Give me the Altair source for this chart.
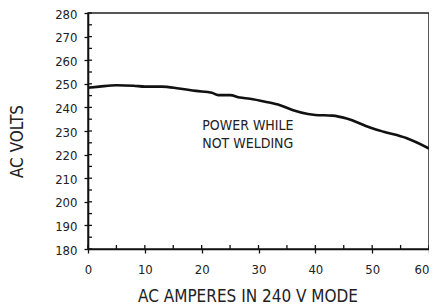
import altair as alt
import pandas as pd

amps = [0, 2, 5, 8, 10, 13, 16, 19, 21.8, 22.9, 25, 26.7, 28.5, 31.4, 33.8, 36.1, 38.7, 40, 43, 45.5, 49.6, 52, 56, 60]
volts = [248.3, 248.8, 249.4, 249.2, 248.8, 248.8, 248.0, 247.0, 246.2, 245.2, 245.2, 244.2, 243.7, 242.3, 240.9, 238.8, 237.2, 236.8, 236.5, 235.3, 231.5, 229.7, 227.0, 222.6]

x_major = [0, 10, 20, 30, 40, 50, 60]
x_minor = [5, 15, 25, 35, 45, 55]
y_major = [180, 190, 200, 210, 220, 230, 240, 250, 260, 270, 280]
y_minor = [185, 195, 205, 215, 225, 235, 245, 255, 265, 275]

note_text = ["POWER WHILE", "NOT WELDING"]
note_x = [20.1, 20.1]
note_y = [232.1, 224.4]

X_TITLE = "AC AMPERES IN 240 V MODE"
Y_TITLE = "AC VOLTS"

FONT = "'Liberation Sans Narrow', 'Arial Narrow', 'DejaVu Sans Condensed', 'Liberation Sans', sans-serif"
W, H = 341, 236

df = pd.DataFrame({"amps": amps, "volts": volts})
xs = alt.Scale(domain=[0, 60], nice=False)
ys = alt.Scale(domain=[180, 280], nice=False)

x_axis = alt.Axis(values=x_major, grid=False, tickSize=4, labelPadding=10, labelOverlap=False,
                  labelFlush=False, labelAlign={"expr": "datum.value == 60 ? 'right' : 'center'"},
                  titleX=159.5, titleY=47, titleBaseline="middle")
y_axis = alt.Axis(values=y_major, grid=False, tickSize=4, labelPadding=7, labelOverlap=False,
                  labelFlush=False, labelOffset=1, titleX=-71, titleY=128,
                  titleBaseline="middle", titleAngle=-90)

line = alt.Chart(df).mark_line(color="#111", strokeWidth=2.6, interpolate="monotone").encode(
    x=alt.X("amps:Q", scale=xs, title=X_TITLE, axis=x_axis),
    y=alt.Y("volts:Q", scale=ys, title=Y_TITLE, axis=y_axis),
)

xt = pd.DataFrame({"v": x_major + x_minor})
yt = pd.DataFrame({"v": y_major + y_minor})

xticks_in = alt.Chart(xt).mark_rule(color="#111", strokeWidth=1.3).encode(
    x=alt.X("v:Q", scale=xs, title=X_TITLE, axis=x_axis), y=alt.value(H), y2=alt.value(H - 4))
yticks_in = alt.Chart(yt).mark_rule(color="#111", strokeWidth=1.3).encode(
    y=alt.Y("v:Q", scale=ys, title=Y_TITLE, axis=y_axis), x=alt.value(0), x2=alt.value(4))

notes = alt.Chart(pd.DataFrame({"t": note_text, "x": note_x, "y": note_y})).mark_text(
    font=FONT, fontSize=14, color="#222", align="left", baseline="middle"
).encode(x=alt.X("x:Q", scale=xs, title=X_TITLE, axis=x_axis),
         y=alt.Y("y:Q", scale=ys, title=Y_TITLE, axis=y_axis), text="t:N")

chart = alt.layer(line, xticks_in, yticks_in, notes).properties(
    width=W, height=H,
    padding={"left": 80, "top": 5, "right": 0, "bottom": 57},
    autosize=alt.AutoSizeParams(type="none"),
).configure_view(stroke="#222", strokeWidth=1.5).configure_axis(
    domainColor="#111", domainWidth=1.6, tickColor="#111", tickWidth=1.3,
    labelFont=FONT, labelFontSize=13, labelColor="#222",
    titleFont=FONT, titleFontSize=17, titleFontWeight="normal", titleColor="#222",
)

chart.save("out.html", embed_options={"renderer": "svg", "actions": False})
